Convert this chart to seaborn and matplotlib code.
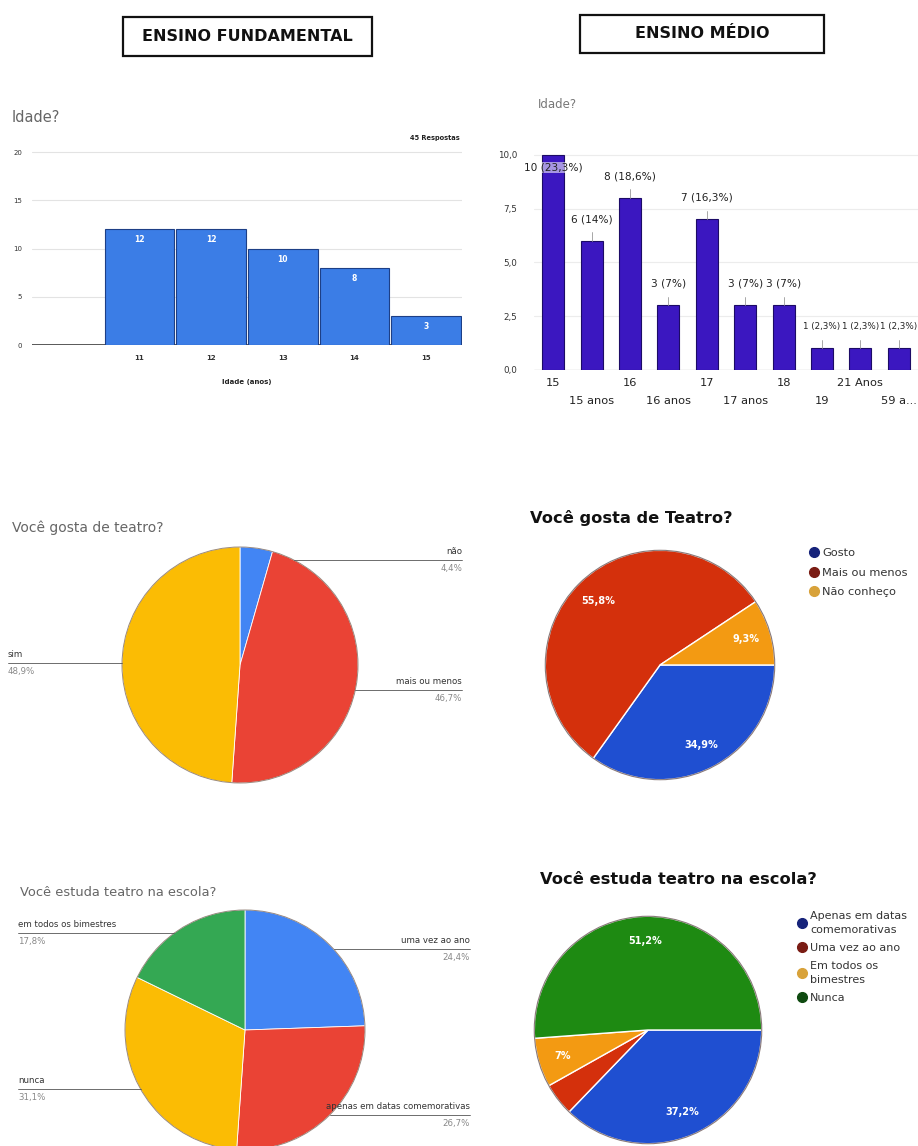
import numpy as np
import pandas as pd
import matplotlib
matplotlib.use("Agg")
import matplotlib.pyplot as plt
import seaborn as sns
from matplotlib.patches import Rectangle, Circle
from matplotlib.lines import Line2D

# ---------------- data ----------------
fund_idade_labels = ["11", "12", "13", "14", "15"]
fund_idade_counts = [12, 12, 10, 8, 3]
fund_total_text = "45 Respostas"

medio_idade_labels = ["15", "15 anos", "16", "16 anos", "17", "17 anos",
                      "18", "19", "21 Anos", "59 a..."]
medio_idade_counts = [10, 6, 8, 3, 7, 3, 3, 1, 1, 1]

fund_gosta_labels = ["não", "mais ou menos", "sim"]
fund_gosta_values = [2, 21, 22]

medio_gosta_labels = ["Gosto", "Mais ou menos", "Não conheço"]
medio_gosta_values = [15, 24, 4]

fund_estuda_labels = ["uma vez ao ano", "apenas em datas comemorativas",
                      "nunca", "em todos os bimestres"]
fund_estuda_values = [11, 12, 14, 8]

medio_estuda_labels = ["Apenas em datas\ncomemorativas", "Uma vez ao ano",
                       "Em todos os\nbimestres", "Nunca"]
medio_estuda_values = [16, 2, 3, 22]

google_colors = ["#4285f4", "#ea4335", "#fbbc04", "#34a853"]
sheets_colors = ["#1f4fd1", "#d4300c", "#f39a12", "#1e8a12"]
legend_colors = ["#16237a", "#7a1c14", "#d8a23a", "#0f4a10"]


def pct_text(p):
    s = f"{p:.1f}".replace(".", ",")
    if s.endswith(",0"):
        s = s[:-2]
    return s + "%"


# ---------------- figure ----------------
sns.set_theme(style="white")
plt.rcParams["font.family"] = ["DejaVu Sans"]

W, H = 918, 1146
fig = plt.figure(figsize=(W / 100, H / 100), dpi=100)
fig.patch.set_facecolor("white")


def px_axes(x, y, w, h):
    return fig.add_axes([x / W, 1 - (y + h) / H, w / W, h / H])


def fx(x):
    return x / W


def fy(y):
    return 1 - y / H


# ---------------- headers ----------------
for (x0, y0, x1, y1, text) in [(123, 17, 372, 56, "ENSINO FUNDAMENTAL"),
                                (580, 15, 824, 53, "ENSINO MÉDIO")]:
    fig.add_artist(Rectangle((fx(x0), fy(y1)), (x1 - x0) / W, (y1 - y0) / H,
                             transform=fig.transFigure, fill=False,
                             lw=1.6, ec="#111111"))
    fig.text(fx((x0 + x1) / 2), fy((y0 + y1) / 2), text, ha="center",
             va="center", fontsize=11.5, fontweight="bold", color="#111111")

# ---------------- top-left: histogram ----------------
ax1 = px_axes(32, 142.4, 430, 202.6)
df1 = pd.DataFrame({"idade": fund_idade_labels, "n": fund_idade_counts})
sns.barplot(data=df1, x="idade", y="n", ax=ax1, color="#3b7de6",
            saturation=1, width=0.97, edgecolor="#1d3f86", linewidth=0.8)
ax1.set_xlim(-1.5, len(fund_idade_labels) - 0.5)
ax1.set_ylim(0, 21)
ax1.set_yticks([0, 5, 10, 15, 20])
ax1.yaxis.grid(True, color="#e3e3e3", lw=0.8)
ax1.set_axisbelow(True)
for s in ax1.spines.values():
    s.set_visible(False)
ax1.axhline(0, color="#333333", lw=1.2, zorder=0.5)
ax1.tick_params(axis="y", length=0, labelsize=5, pad=7, labelcolor="#333333")
ax1.tick_params(axis="x", length=0, labelsize=5, pad=7, labelcolor="#333333")
for lab in ax1.get_xticklabels():
    lab.set_fontweight("bold")
ax1.set_xlabel("")
ax1.set_ylabel("")
for i, v in enumerate(fund_idade_counts):
    ax1.text(i, v - 1.1, str(v), ha="center", va="center", color="white",
             fontsize=5.5, fontweight="bold")
fig.text(fx(12), fy(118), "Idade?", fontsize=10.5, color="#666666",
         ha="left", va="center")
fig.text(fx(460), fy(138), fund_total_text, fontsize=4.8, color="#222222",
         ha="right", va="center", fontweight="bold")
fig.text(fx(247), fy(382), "Idade (anos)", fontsize=5, color="#222222",
         ha="center", va="center", fontweight="bold")

# ---------------- top-right: bar chart ----------------
ax2 = px_axes(534, 142, 384, 228)
df2 = pd.DataFrame({"idade": medio_idade_labels, "n": medio_idade_counts})
sns.barplot(data=df2, x="idade", y="n", ax=ax2, color="#3b17c0",
            saturation=1, width=0.57, edgecolor="#1c0b66", linewidth=0.8)
ax2.set_xlim(-0.5, len(medio_idade_labels) - 0.5)
ax2.set_ylim(0, 10.6)
ax2.set_yticks([0, 2.5, 5, 7.5, 10])
ax2.set_yticklabels(["0,0", "2,5", "5,0", "7,5", "10,0"])
ax2.yaxis.grid(True, color="#ececec", lw=0.8)
ax2.set_axisbelow(True)
for s in ax2.spines.values():
    s.set_visible(False)
ax2.axhline(0, color="#666666", lw=0.8, zorder=0.5)
ax2.tick_params(axis="y", length=0, labelsize=6.3, pad=12, labelcolor="#333333")
ax2.tick_params(axis="x", length=0, labelsize=8.2, labelcolor="#222222")
ax2.set_xticks(range(len(medio_idade_labels)))
ax2.set_xticklabels(medio_idade_labels)
for k, tick in enumerate(ax2.xaxis.get_major_ticks()):
    tick.set_pad(6 if k % 2 == 0 else 19)
ax2.set_xlabel("")
ax2.set_ylabel("")
total2 = sum(medio_idade_counts)
for i, v in enumerate(medio_idade_counts):
    txt = f"{v} ({pct_text(100 * v / total2)})"
    if v + 1.0 <= 10:
        ty = v + 1.0
        ax2.plot([i, i], [v, v + 0.4], color="#999999", lw=0.6)
    else:
        ty = v - 0.6
    fs = 7.6 if v > 1 else 6.3
    ax2.text(i, ty, txt, ha="center", va="center", fontsize=fs,
             color="#222222", clip_on=False,
             bbox=dict(fc="white", ec="none", alpha=0.55, pad=0.3))
fig.text(fx(538), fy(105), "Idade?", fontsize=8.5, color="#777777",
         ha="left", va="center")


# ---------------- helper for left pies ----------------
def left_pie(cx, cy, R, values, labels, colors, startangle, label_layout):
    half = 245
    ax = px_axes(cx - half, cy - half, 2 * half, 2 * half)
    ax.pie(values, colors=colors, startangle=startangle, counterclock=False,
           radius=1, wedgeprops=dict(edgecolor="white", linewidth=0.6))
    ax.add_patch(Circle((0, 0), 1, fill=False, ec="#5a4030", lw=0.7,
                        alpha=0.6))
    k = half / R
    ax.set_xlim(-k, k)
    ax.set_ylim(-k, k)
    ax.set_aspect("equal")
    ax.axis("off")
    total = sum(values)
    for (name, val), (ly, side, tx) in zip(zip(labels, values), label_layout):
        dy = (ly - cy) / R
        dx = np.sqrt(max(0.0, 1 - dy * dy))
        yd = -dy
        xt = (tx - cx) / R
        xe = dx if side == "right" else -dx
        ax.plot([xe, xt], [yd, yd], color="#555555", lw=0.6, clip_on=False)
        ha = "right" if side == "right" else "left"
        ax.text(xt, yd + 0.035, name, ha=ha, va="bottom", fontsize=6.2,
                color="#333333", clip_on=False)
        ax.text(xt, yd - 0.035, pct_text(100 * val / total), ha=ha, va="top",
                fontsize=6.2, color="#888888", clip_on=False)
    return ax


def right_pie(x0, y0, size, values, colors):
    ax = px_axes(x0, y0, size, size)

    def fmt(p):
        return pct_text(p) if p >= 5 else ""

    wedges, texts, autotexts = ax.pie(
        values, colors=colors, startangle=0, counterclock=False, radius=1,
        autopct=fmt, pctdistance=0.78,
        textprops=dict(color="white", fontsize=7, fontweight="bold"),
        wedgeprops=dict(edgecolor="white", linewidth=1.0))
    ax.add_patch(Circle((0, 0), 1, fill=False, ec="#3a2020", lw=0.8,
                        alpha=0.6))
    ax.set_xlim(-1.02, 1.02)
    ax.set_ylim(-1.02, 1.02)
    ax.set_aspect("equal")
    ax.axis("off")
    return ax


# ---------------- middle-left pie ----------------
left_pie(240, 665, 118, fund_gosta_values, fund_gosta_labels,
         google_colors[:3], 90,
         [(560, "right", 462), (690, "right", 462), (663, "left", 8)])
fig.text(fx(12), fy(528), "Você gosta de teatro?", fontsize=10,
         color="#666666", ha="left", va="center")

# ---------------- middle-right pie ----------------
right_pie(543, 548, 234, medio_gosta_values, sheets_colors[:3])
fig.text(fx(530), fy(518), "Você gosta de Teatro?", fontsize=11.7,
         fontweight="bold", color="#111111", ha="left", va="center")
h_g = [Line2D([0], [0], marker="o", ls="", markerfacecolor=c,
              markeredgecolor=c, markersize=7)
       for c in legend_colors[:3]]
fig.legend(h_g, medio_gosta_labels, loc="upper left",
           bbox_to_anchor=(fx(808), fy(548)), bbox_transform=fig.transFigure,
           frameon=False, fontsize=8.2, handletextpad=0.25, labelspacing=0.85,
           handlelength=1.0, borderaxespad=0, borderpad=0, labelcolor="#333333")

# ---------------- bottom-left pie ----------------
left_pie(245, 1030, 120, fund_estuda_values, fund_estuda_labels,
         google_colors, 90,
         [(949, "right", 470), (1115, "right", 470), (1089, "left", 18),
          (933, "left", 18)])
fig.text(fx(20), fy(893), "Você estuda teatro na escola?", fontsize=9.4,
         color="#666666", ha="left", va="center")

# ---------------- bottom-right pie ----------------
right_pie(532, 914, 232, medio_estuda_values, sheets_colors)
fig.text(fx(540), fy(880), "Você estuda teatro na escola?", fontsize=11.7,
         fontweight="bold", color="#111111", ha="left", va="center")
h_e = [Line2D([0], [0], marker="o", ls="", markerfacecolor=c,
              markeredgecolor=c, markersize=7)
       for c in legend_colors]
leg_e = fig.legend(h_e, medio_estuda_labels, loc="upper left",
                   bbox_to_anchor=(fx(796), fy(911)),
                   bbox_transform=fig.transFigure,
                   frameon=False, fontsize=8, handletextpad=0.25,
                   labelspacing=0.75, handlelength=1.0, borderaxespad=0,
                   borderpad=0, labelcolor="#333333")
for t in leg_e.get_texts():
    t.set_linespacing(1.45)

fig.savefig("out.png", dpi=100, facecolor="white")
